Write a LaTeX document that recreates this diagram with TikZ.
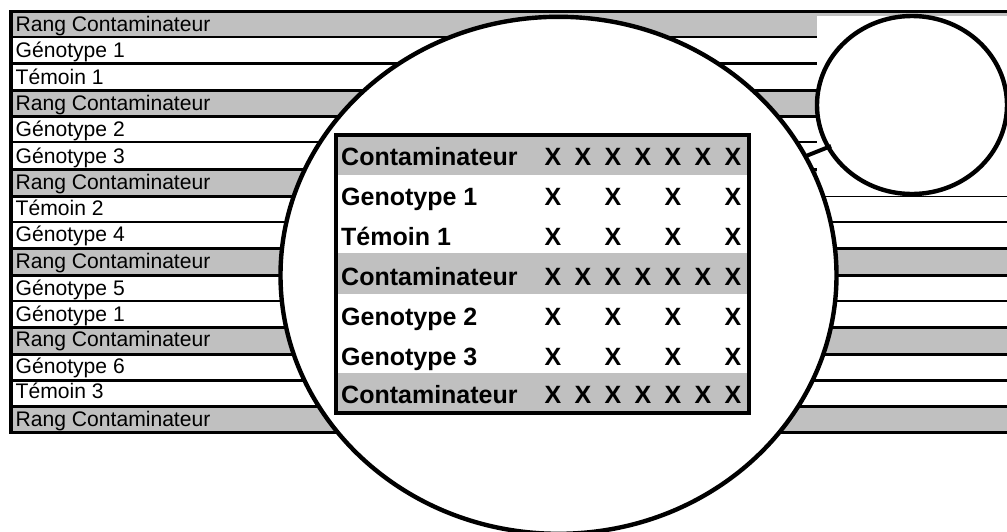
\documentclass[tikz,border=0pt]{standalone}
\usepackage{fontspec}
\setmainfont{Liberation Sans}
\definecolor{rowgrey}{RGB}{192,192,192}
\tikzset{
  rowlabel/.style={anchor=base west,inner sep=0pt,text=black,font=\fontsize{21.1}{24}\selectfont},
  tablelabel/.style={anchor=base west,inner sep=0pt,text=black,font=\bfseries\fontsize{25}{28}\selectfont},
  crossmark/.style={anchor=base,inner sep=0pt,text=black,font=\bfseries\fontsize{25}{28}\selectfont},
  rule/.style={draw=black,line width=3pt},
  thinrule/.style={draw=black,line width=2.3pt},
  lens/.style={draw=black,line width=4.4pt,fill=white}
}
\begin{document}
\begin{tikzpicture}[x=1pt,y=-1pt]
\useasboundingbox (0,0) rectangle (1007,531);
\clip (0,0) rectangle (1007,531);
\fill[white] (0,0) rectangle (1007,531);
% grey rows
\foreach \a/\b in {11.5/37,90/116,169/196,248/275,327/354,406/432}
  \fill[rowgrey] (11,\a) rectangle (1007,\b);
% row rules
\foreach \y in {63,90,116,169,196,248,275,327,354,380,406,432}
  \draw[rule] (11,\y) -- (1007,\y);
\foreach \y in {37,142,222,301}
  \draw[thinrule] (11,\y) -- (1007,\y);
\draw[black,line width=3.2pt] (9.5,11.5) -- (1007,11.5);
\draw[black,line width=3.2pt] (11,10) -- (11,433.5);
% blank area at top right
\fill[white] (817,16) rectangle (1007,195.4);
\fill[white] (825,195.4) rectangle (1007,197.6);
\draw[black,line width=1.2pt] (817,196.5) -- (1007,196.5);
% row labels
\foreach \t/\y/\n in {Rang Contaminateur/31/a,Génotype 1/57.3/b,Témoin 1/84/c,Rang Contaminateur/110/d,Génotype 2/136.7/e,Génotype 3/163/f,Rang Contaminateur/189/g,Témoin 2/215/h,Génotype 4/241/i,Rang Contaminateur/268/j,Génotype 5/295/k,Génotype 1/321/l,Rang Contaminateur/346.7/m,Génotype 6/373/n,Témoin 3/398/o,Rang Contaminateur/426.7/p}
  \node[rowlabel] (row\n) at (15.5,\y) {\t};
% lenses
\draw[lens] (558.5,275.3) ellipse [x radius=278,y radius=258.5];
\draw[lens] (912,105) ellipse [x radius=95,y radius=89];
\coordinate (handleA) at (806,156);
\coordinate (handleB) at (831,146);
\draw[black,line width=4pt] (handleA) -- (handleB);
% inset table
\fill[white] (336,134) rectangle (749,413);
\foreach \a/\b in {136/175,253/294,373/411}
  \fill[rowgrey] (336,\a) rectangle (749,\b);
\draw[black,line width=4pt] (336,134.5) rectangle (749,412.8);
\foreach \t/\y/\n in {Contaminateur/165.7/a,Genotype 1/205.7/b,Témoin 1/245.7/c,Contaminateur/285.7/d,Genotype 2/325.7/e,Genotype 3/365.7/f,Contaminateur/403.3/g}
  \node[tablelabel] (tab\n) at (341,\y) {\t};
\foreach \y/\n in {165.7/a,285.7/d,403.3/g}
  \foreach \x in {553,583,613,643,673,703,733}
    \node[crossmark] (x\n\x) at (\x,\y) {X};
\foreach \y/\n in {205.7/b,245.7/c,325.7/e,365.7/f}
  \foreach \x in {553,613,673,733}
    \node[crossmark] (x\n\x) at (\x,\y) {X};
\end{tikzpicture}
\end{document}
